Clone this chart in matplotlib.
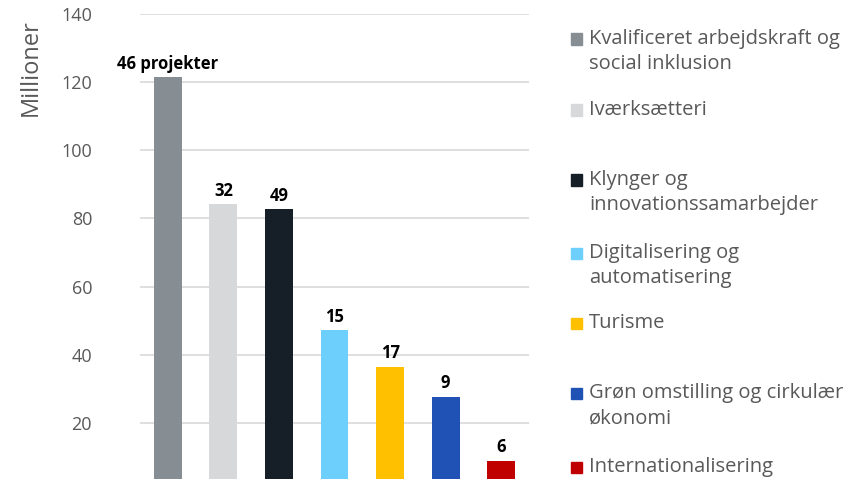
import matplotlib.pyplot as plt
from matplotlib.patches import Rectangle

# Data
kategorier = ['Kvalificeret arbejdskraft og\nsocial inklusion', 'Iværksætteri',
              'Klynger og\ninnovationssamarbejder', 'Digitalisering og\nautomatisering',
              'Turisme', 'Grøn omstilling og cirkulær\nøkonomi', 'Internationalisering']
millioner = [121.5, 84.2, 82.7, 47.2, 36.4, 27.7, 8.9]
projekter = ['46 projekter', '32', '49', '15', '17', '9', '6']
farver = ['#878e93', '#d6d8da', '#161f27', '#6dcffc', '#ffc000', '#1f52b4', '#c00000']
y_ticks = [20, 40, 60, 80, 100, 120, 140]

plt.rcParams['font.family'] = ['Open Sans', 'DejaVu Sans']
tekstfarve = '#595959'

fig = plt.figure(figsize=(8.61, 4.79), dpi=100)
ax = fig.add_axes([140 / 861, 0, 389 / 861, 1 - 14 / 479])

x = range(len(millioner))
bars = ax.bar(x, millioner, width=0.5, color=farver, zorder=3)

# Etiketter over søjlerne
for b, lab in zip(bars, projekter):
    ax.text(b.get_x() + b.get_width() / 2, b.get_height() + 1.3, lab,
            ha='center', va='bottom', fontsize=12, fontweight='bold', color='black')

ax.set_xlim(-0.5, len(millioner) - 0.5)
ax.set_ylim(3.5, 140)
ax.set_yticks(y_ticks)
ax.set_xticks([])
ax.tick_params(axis='y', length=0, pad=34.5, labelsize=13, labelcolor=tekstfarve)
ax.grid(axis='y', color='#d9d9d9', linewidth=1.2, zorder=0)
for s in ax.spines.values():
    s.set_visible(False)

fig.text(31 / 861, 1 - 68 / 479, 'Millioner', rotation=90, ha='center', va='center',
         fontsize=17, color=tekstfarve)

# Forklaring
legend_y = [39, 110, 180, 253, 323, 393, 467]
for farve, navn, yy in zip(farver, kategorier, legend_y):
    fig.patches.append(Rectangle((571 / 861, 1 - (yy + 5.5) / 479), 11 / 861, 11 / 479,
                                 color=farve, transform=fig.transFigure, figure=fig))
    fig.text(589 / 861, 1 - (yy - 10) / 479, navn, ha='left', va='top',
             fontsize=14.5, color=tekstfarve, linespacing=1.35)

fig.savefig('out.png', dpi=100)
